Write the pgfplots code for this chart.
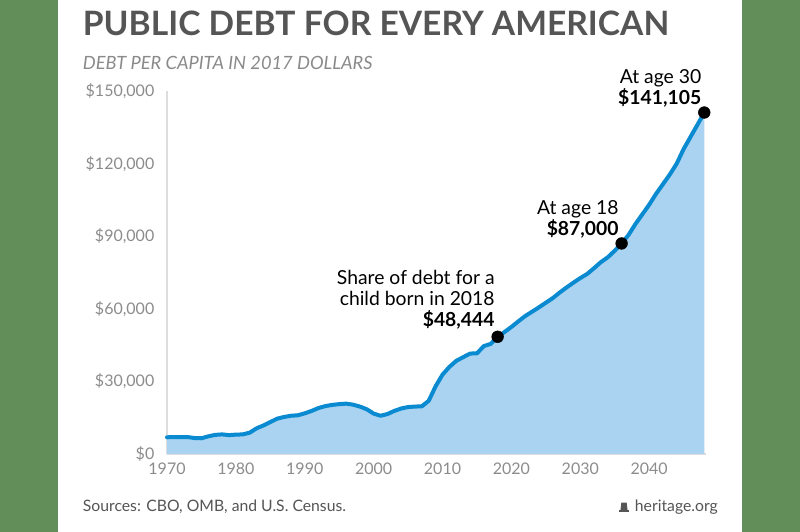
\documentclass[border=0pt]{standalone}
\usepackage{pgfplots}
\pgfplotsset{compat=1.18}
\usepackage{fontspec}
\setmainfont{Lato}
\definecolor{bggreen}{HTML}{628E5A}
\definecolor{titlegray}{HTML}{555555}
\definecolor{subgray}{HTML}{8A8A8A}
\definecolor{tickgray}{HTML}{8C8C8C}
\definecolor{lineblue}{HTML}{0A8AD0}
\definecolor{fillblue}{HTML}{A9D3F1}
\definecolor{axgray}{HTML}{DDDDDD}
\begin{document}
\begin{tikzpicture}
\fill[bggreen] (0,0) rectangle (600pt,399pt);
\fill[white] (43.5pt,0) rectangle (556.5pt,399pt);
\node[anchor=base west,inner sep=0,text=titlegray,font=\fontsize{25.2}{28}\selectfont\bfseries] at (62pt,372pt) {PUBLIC DEBT FOR EVERY AMERICAN};
\node[anchor=base west,inner sep=0,text=subgray,font=\fontsize{13.7}{15}\selectfont\itshape] at (62pt,347pt) {DEBT PER CAPITA IN 2017 DOLLARS};
\node[anchor=base west,inner sep=0,text=titlegray,font=\fontsize{11.8}{13}\selectfont] at (62pt,15pt) {Sources: CBO, OMB, and U.S. Census.};
\node[anchor=base east,inner sep=0,text=titlegray,font=\fontsize{11.8}{13}\selectfont] at (538.5pt,15pt) {heritage.org};
\fill[titlegray] (464.5pt,15pt) rectangle (471.5pt,16.2pt);
\fill[titlegray] (465.3pt,16.2pt) -- (470.7pt,16.2pt) -- (470pt,22pt) -- (466pt,22pt) -- cycle;
\begin{axis}[
  at={(125.25pt,58.5pt)}, anchor=south west,
  scale only axis, width=404.5pt, height=272.25pt,
  xmin=1970, xmax=2048.3, ymin=0, ymax=150000,
  axis x line*=bottom, axis y line*=left,
  axis line style={axgray, line width=0.8pt, -},
  major tick length=0pt,
  scaled y ticks=false, scaled x ticks=false,
  xtick={1970,1980,1990,2000,2010,2020,2030,2040},
  xticklabels={1970,1980,1990,2000,2010,2020,2030,2040},
  ytick={0,30000,60000,90000,120000,150000},
  yticklabels={\$0,{\$30,000},{\$60,000},{\$90,000},{\$120,000},{\$150,000}},
  tick label style={text=tickgray, font=\fontsize{12}{14}\selectfont},
  yticklabel style={xshift=-6pt},
  xticklabel style={yshift=-3pt},
  clip=false,
]
\addplot[draw=none, fill=fillblue] table {
x y
1970 6900
1971 7000
1972 7000
1973 7000
1974 6600
1975 6500
1976 7300
1977 7900
1978 8100
1979 7800
1980 8000
1981 8100
1982 8800
1983 10600
1984 11800
1985 13200
1986 14600
1987 15300
1988 15800
1989 16000
1990 16800
1991 17800
1992 19000
1993 19800
1994 20300
1995 20600
1996 20800
1997 20400
1998 19600
1999 18500
2000 16700
2001 15800
2002 16500
2003 17800
2004 18800
2005 19400
2006 19600
2007 19700
2008 22000
2009 28000
2010 32800
2011 36000
2012 38500
2013 40000
2014 41500
2015 41600
2016 44600
2017 45500
2018 48444
2019 50400
2020 52500
2021 54800
2022 57000
2023 58800
2024 60600
2025 62500
2026 64400
2027 66700
2028 68800
2029 70800
2030 72700
2031 74400
2032 76800
2033 79300
2034 81300
2035 84000
2036 87000
2037 90500
2038 95000
2039 99000
2040 103000
2041 107500
2042 111500
2043 115500
2044 120000
2045 126000
2046 131000
2047 136000
2048 141105
} \closedcycle;
\addplot[lineblue, line width=3pt, line join=round, line cap=round] table {
x y
1970 6900
1971 7000
1972 7000
1973 7000
1974 6600
1975 6500
1976 7300
1977 7900
1978 8100
1979 7800
1980 8000
1981 8100
1982 8800
1983 10600
1984 11800
1985 13200
1986 14600
1987 15300
1988 15800
1989 16000
1990 16800
1991 17800
1992 19000
1993 19800
1994 20300
1995 20600
1996 20800
1997 20400
1998 19600
1999 18500
2000 16700
2001 15800
2002 16500
2003 17800
2004 18800
2005 19400
2006 19600
2007 19700
2008 22000
2009 28000
2010 32800
2011 36000
2012 38500
2013 40000
2014 41500
2015 41600
2016 44600
2017 45500
2018 48444
2019 50400
2020 52500
2021 54800
2022 57000
2023 58800
2024 60600
2025 62500
2026 64400
2027 66700
2028 68800
2029 70800
2030 72700
2031 74400
2032 76800
2033 79300
2034 81300
2035 84000
2036 87000
2037 90500
2038 95000
2039 99000
2040 103000
2041 107500
2042 111500
2043 115500
2044 120000
2045 126000
2046 131000
2047 136000
2048 141105
};
\addplot[only marks, mark=*, mark size=4.4pt, black] coordinates {(2018,48444) (2036,87000) (2048,141105)};
\node[anchor=south east, align=right, inner sep=0, font=\fontsize{14.5}{16}\selectfont] at (axis cs:2017.6,51300) {Share of debt for a\\child born in 2018\\\textbf{\$48,444}};
\node[anchor=south east, align=right, inner sep=0, font=\fontsize{14.5}{16}\selectfont] at (axis cs:2035.6,89000) {At age 18\\\textbf{\$87,000}};
\node[anchor=south east, align=right, inner sep=0, font=\fontsize{14.5}{16}\selectfont] at (axis cs:2047.6,143200) {At age 30\\\textbf{\$141,105}};
\end{axis}
\end{tikzpicture}
\end{document}
